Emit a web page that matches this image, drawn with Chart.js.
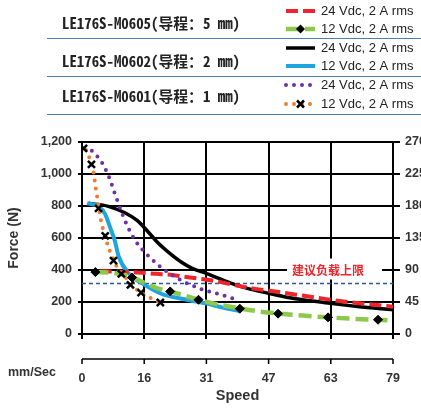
<!DOCTYPE html>
<html>
<head>
<meta charset="utf-8">
<script src="https://cdn.jsdelivr.net/npm/chart.js@4.4.1/dist/chart.umd.min.js"></script>
<style>
  html, body { margin: 0; padding: 0; background: #fff; overflow: hidden; }
  #wrap { position: absolute; left: 0; top: 0; width: 440px; height: 409px; }
</style>
</head>
<body>
<div id="wrap"><canvas id="chart" width="440" height="409"></canvas></div>
<script>
// Force vs speed curves for LE176S screw actuators (3 leads x 2 supply voltages)

// --- data ---
const speedTickValues = [0, 15.8, 31.6, 47.4, 63.2, 79];
const speedTickLabels = ['0', '16', '31', '47', '63', '79'];

const productLabels = ['LE176S-M0605(导程：5 mm)', 'LE176S-M0602(导程：2 mm)', 'LE176S-M0601(导程：1 mm)'];
const supplyLabels = ['24 Vdc, 2 A rms', '12 Vdc, 2 A rms'];
const loadLimitLabel = '建议负载上限';
const loadLimitForce = 320;

// M0605, 24 V (red dashed)
const m0605v24Speed = [4.5, 9, 14, 19, 23, 26, 30, 34, 38, 44, 50, 56, 62, 68, 74, 79];
const m0605v24Force = [392, 390, 384, 376, 369, 358, 345, 330, 310, 282, 262, 240, 218, 199, 184, 171];

// M0605, 12 V (green dashed + diamonds)
const m0605v12Speed = [3.4, 8, 12.7, 16, 19, 22.4, 29.6, 35, 40.1, 45, 49.8, 56, 62.5, 69, 75.2, 79];
const m0605v12Force = [387, 382, 355, 318, 287, 266, 214, 183, 160, 141, 128, 115, 104, 95, 89, 85];
const m0605v12MarkSpeed = [3.4, 12.7, 22.4, 29.6, 40.1, 49.8, 62.5, 75.2];
const m0605v12MarkForce = [387, 353, 266, 214, 158, 127, 104, 89];

// M0602, 24 V (black)
const m0602v24Speed = [1.7, 6.7, 11, 14, 16.6, 19.4, 22, 25, 28, 31.7, 37.6, 42, 46.9, 52.8, 58, 62.5, 70, 79];
const m0602v24Force = [817, 798, 756, 710, 644, 567, 510, 453, 410, 378, 320, 285, 257, 226, 208, 193, 172, 152];

// M0602, 12 V (blue)
const m0602v12Speed = [1.3, 4.2, 5.9, 7.2, 8.4, 9.3, 11.8, 15.2, 20.3, 25, 31.7, 36, 40.1];
const m0602v12Force = [817, 798, 748, 662, 577, 486, 380, 318, 250, 222, 190, 163, 143];

// M0601, 24 V (purple dotted)
const m0601v24Speed = [2.5, 4, 5.2, 7, 8.4, 9.9, 11.5, 13.5, 16.2, 19.3, 22.8, 26, 30.4, 34.5, 38.7];
const m0601v24Force = [1145, 1107, 1066, 972, 873, 771, 677, 584, 505, 432, 370, 325, 280, 251, 220];

// M0601, 12 V (orange dotted + crosses)
const m0601v12Speed = [1, 1.7, 2.9, 3.5, 4.2, 4.9, 5.9, 6.6, 7.4, 9.1, 11.2, 13.3, 16.7, 19, 20];
const m0601v12Force = [1150, 1113, 1014, 910, 806, 698, 612, 550, 500, 410, 350, 290, 234, 207, 197];
const m0601v12MarkSpeed = [0.4, 2.4, 4.2, 5.9, 8, 10, 12.3, 15, 19.9];
const m0601v12MarkForce = [1160, 1060, 785, 613, 459, 376, 307, 259, 197];

// --- styles ---
const RED = '#f0242a', GREEN = '#8cc84b', BLUE = '#1fa4dd', PURPLE = '#7030a0', ORANGE = '#ed7d31';
const FONT = 'Liberation Sans, Arial, sans-serif';
const CJK = '"Noto Sans CJK SC", sans-serif';
const TXT = '#333';

const styles = {
  red:    { color: RED, width: 4, dash: [12, 5], cap: 'butt' },
  green:  { color: GREEN, width: 4.5, dash: [13, 6], cap: 'butt', marker: 'diamond' },
  black:  { color: '#000', width: 3.5, dash: [], cap: 'butt' },
  blue:   { color: BLUE, width: 4, dash: [], cap: 'butt' },
  purple: { color: PURPLE, width: 4, dash: [0, 8], cap: 'round' },
  orange: { color: ORANGE, width: 4, dash: [0, 8], cap: 'round', marker: 'cross' }
};

function pts(xs, ys) { return xs.map((x, i) => ({ x, y: ys[i] })); }

function lineSet(label, xs, ys, st) {
  return {
    label, data: pts(xs, ys), showLine: true, borderColor: st.color, borderWidth: st.width,
    borderDash: st.dash, borderCapStyle: st.cap, pointRadius: 0, pointHoverRadius: 0,
    fill: false, cubicInterpolationMode: 'monotone', yAxisID: 'y'
  };
}
function markSet(label, xs, ys, style) {
  return {
    label, data: pts(xs, ys), showLine: false, pointStyle: style,
    pointRadius: style === 'rectRot' ? 4.5 : 5, pointBorderWidth: style === 'rectRot' ? 1 : 2.5,
    pointBackgroundColor: '#000', pointBorderColor: '#000', yAxisID: 'y'
  };
}

// index 0 is drawn on top
const datasets = [
  markSet('M0605 12V markers', m0605v12MarkSpeed, m0605v12MarkForce, 'rectRot'),
  markSet('M0601 12V markers', m0601v12MarkSpeed, m0601v12MarkForce, 'crossRot'),
  lineSet('M0605 12V', m0605v12Speed, m0605v12Force, styles.green),
  lineSet('M0601 12V', m0601v12Speed, m0601v12Force, styles.orange),
  lineSet('M0601 24V', m0601v24Speed, m0601v24Force, styles.purple),
  lineSet('M0605 24V', m0605v24Speed, m0605v24Force, styles.red),
  lineSet('M0602 12V', m0602v12Speed, m0602v12Force, styles.blue),
  lineSet('M0602 24V', m0602v24Speed, m0602v24Force, styles.black)
];

function drawMarker(ctx, type, x, y) {
  ctx.save();
  ctx.fillStyle = '#000';
  ctx.strokeStyle = '#000';
  if (type === 'diamond') {
    ctx.beginPath();
    ctx.moveTo(x, y - 4.5); ctx.lineTo(x + 4.5, y); ctx.lineTo(x, y + 4.5); ctx.lineTo(x - 4.5, y);
    ctx.closePath(); ctx.fill();
  } else {
    const r = 3.5;
    ctx.lineWidth = 2.5;
    ctx.beginPath();
    ctx.moveTo(x - r, y - r); ctx.lineTo(x + r, y + r);
    ctx.moveTo(x + r, y - r); ctx.lineTo(x - r, y + r);
    ctx.stroke();
  }
  ctx.restore();
}

function drawSample(ctx, st, x0, x1, y) {
  ctx.save();
  ctx.strokeStyle = st.color;
  ctx.lineWidth = st.width;
  ctx.setLineDash(st.dash);
  ctx.lineCap = st.cap;
  ctx.beginPath();
  ctx.moveTo(x0, y); ctx.lineTo(x1, y);
  ctx.stroke();
  ctx.restore();
  if (st.marker) drawMarker(ctx, st.marker, (x0 + x1) / 2, y);
}

const decor = {
  id: 'decor',
  beforeDatasetsDraw(chart) {
    const { ctx, chartArea: a, scales } = chart;
    const y = Math.round(scales.y.getPixelForValue(loadLimitForce)) + 0.5;
    ctx.save();
    ctx.strokeStyle = '#2f5597';
    ctx.lineWidth = 1.4;
    ctx.setLineDash([4, 3]);
    ctx.beginPath(); ctx.moveTo(a.left, y); ctx.lineTo(a.right, y); ctx.stroke();
    // label on a white patch over the grid
    ctx.setLineDash([]);
    ctx.fillStyle = '#fff';
    ctx.fillRect(287, y - 25, 95, 21);
    ctx.font = 'bold 12px ' + CJK;
    ctx.fillStyle = RED;
    ctx.textAlign = 'center';
    ctx.textBaseline = 'middle';
    ctx.fillText(loadLimitLabel, 328, y - 13);
    ctx.restore();
  },
  afterDraw(chart) {
    const { ctx, chartArea: a, scales } = chart;
    ctx.save();
    // second speed axis line
    const ly = a.bottom + 25;
    ctx.strokeStyle = '#000';
    ctx.lineWidth = 1.5;
    ctx.beginPath();
    ctx.moveTo(a.left, ly); ctx.lineTo(a.right, ly);
    speedTickValues.forEach(v => {
      const px = scales.x.getPixelForValue(v);
      ctx.moveTo(px, ly); ctx.lineTo(px, ly + 5);
    });
    ctx.stroke();
    ctx.fillStyle = TXT;
    ctx.font = 'bold 12.5px ' + FONT;
    ctx.textAlign = 'left';
    ctx.textBaseline = 'middle';
    ctx.fillText('mm/Sec', 8, 373);

    // legend table
    ctx.strokeStyle = '#4a7ebb';
    ctx.lineWidth = 1.2;
    [38, 76, 114].forEach(sy => {
      ctx.beginPath(); ctx.moveTo(47, sy + 0.5); ctx.lineTo(440, sy + 0.5); ctx.stroke();
    });
    ctx.fillStyle = '#222';
    ctx.font = 'bold 15px "Noto Sans Mono CJK SC", "Noto Sans CJK SC", sans-serif';
    [23, 61, 96].forEach((py, i) => ctx.fillText(productLabels[i], 62, py, 178));

    const rows = [styles.red, styles.green, styles.black, styles.blue, styles.purple, styles.orange];
    const rowY = [11, 29, 48, 66, 85, 104];
    ctx.font = '13px ' + FONT;
    rows.forEach((st, i) => {
      drawSample(ctx, st, 286, 315, rowY[i]);
      ctx.fillStyle = '#222';
      ctx.fillText(supplyLabels[i % 2], 321, rowY[i]);
    });
    ctx.restore();
  }
};

const tickFont = { family: FONT, size: 12.5, weight: 'bold' };

new Chart(document.getElementById('chart'), {
  type: 'scatter',
  data: { datasets },
  options: {
    responsive: false,
    animation: false,
    events: [],
    layout: { padding: { top: 142, left: 0, right: 0, bottom: 0 } },
    plugins: { legend: { display: false }, tooltip: { enabled: false } },
    scales: {
      x: {
        type: 'linear', position: 'bottom', min: 0, max: 79,
        afterBuildTicks: s => { s.ticks = speedTickValues.map(v => ({ value: v })); },
        afterFit: s => { s.height = 75; },
        ticks: {
          padding: 32, color: TXT, font: tickFont, maxRotation: 0, autoSkip: false,
          callback: (v, i) => speedTickLabels[i]
        },
        grid: { color: '#000', lineWidth: 2, tickLength: 5 },
        border: { color: '#000', width: 2 },
        title: { display: true, text: 'Speed', color: TXT, font: { family: FONT, size: 14.5, weight: 'bold' }, padding: { top: 0, bottom: 4 } }
      },
      y: {
        type: 'linear', position: 'left', min: 0, max: 1200,
        afterFit: s => { s.width = 82; },
        ticks: { stepSize: 200, padding: 6, color: TXT, font: tickFont, callback: v => v.toLocaleString('en-US') },
        grid: { color: '#000', lineWidth: 2, tickLength: 4 },
        border: { color: '#000', width: 2 },
        title: { display: true, text: 'Force (N)', color: TXT, font: { family: FONT, size: 14, weight: 'bold' }, padding: { top: 6, bottom: 0 } }
      },
      y1: {
        type: 'linear', position: 'right', min: 0, max: 270,
        afterFit: s => { s.width = 47; },
        ticks: { stepSize: 45, padding: 5, color: TXT, font: tickFont },
        grid: { drawOnChartArea: false, color: '#000', lineWidth: 2, tickLength: 7 },
        border: { color: '#000', width: 2 }
      }
    }
  },
  plugins: [decor]
});
</script>
</body>
</html>
